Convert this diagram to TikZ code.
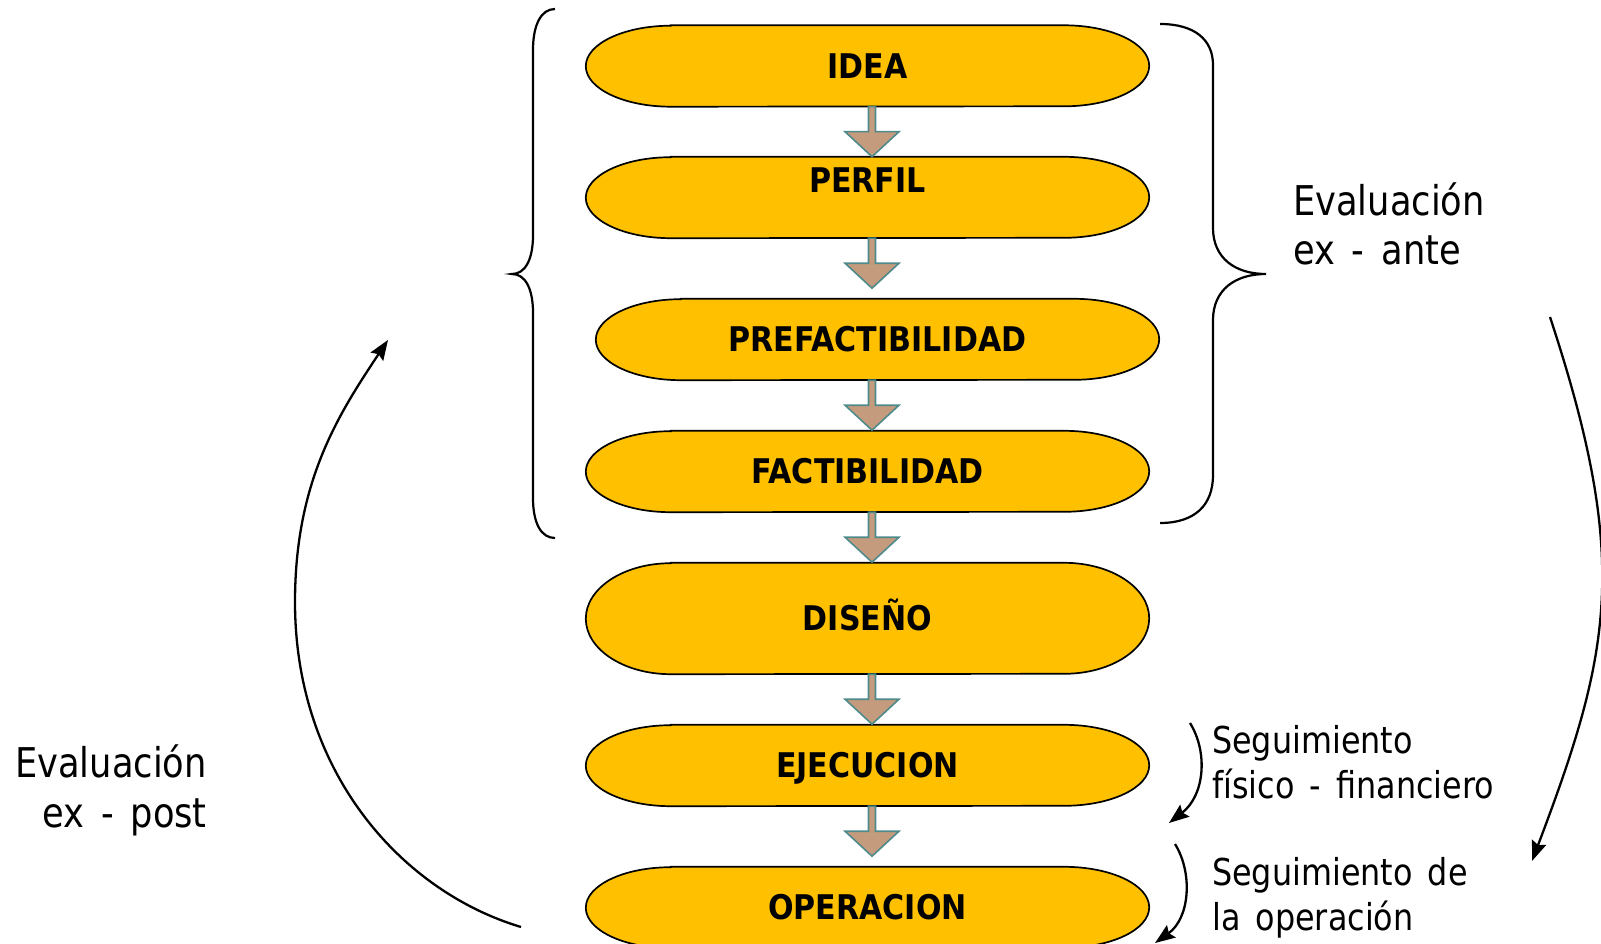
\documentclass[tikz,border=0pt]{standalone}
\usepackage{fontspec}
\setmainfont{DejaVu Sans}
\newfontfamily\regf[FakeStretch=0.86,WordSpace=1.5]{DejaVu Sans}
\newfontfamily\boldf[FakeStretch=0.885]{DejaVu Sans}
\usetikzlibrary{arrows.meta,backgrounds}
\definecolor{gold}{HTML}{FFC000}
\definecolor{arrowfill}{HTML}{C49B7D}
\definecolor{arrowline}{HTML}{4F8A8B}
\newcommand\bfont{\boldf\bfseries\fontsize{34pt}{40pt}\selectfont}
\newcommand\tshape[2]{%
  \path[tfill] ([xshift=85pt]#1.north west) -- ([xshift=-85pt]#1.north east)
    arc[start angle=90,end angle=-90,x radius=85pt,y radius=#2]
    -- ([xshift=85pt]#1.south west)
    arc[start angle=270,end angle=90,x radius=85pt,y radius=#2] -- cycle;}
\newcommand\barrow[2]{%
  \draw[bar] ([xshift=#2]#1.south) ++(-3.5,0) -- ++(0,25) -- ++(-23.5,0)
    -- ++(27,25) -- ++(27,-25) -- ++(-23.5,0) -- ++(0,-25) -- cycle;}
\begin{document}
\begin{tikzpicture}[x=1pt,y=-1pt,
  term/.style={rectangle, minimum width=563pt, minimum height=81pt, inner sep=0pt,
    font=\bfont, text height=24.8pt, text depth=0pt},
  tfill/.style={fill=gold, draw=black, line width=1.7pt},
  bar/.style={fill=arrowfill, draw=arrowline, line width=1.6pt, line join=miter},
  lbl/.style={font=\regf\fontsize{41pt}{50pt}\selectfont, inner sep=0pt},
  small/.style={font=\regf\fontsize{37pt}{45pt}\selectfont, inner sep=0pt, align=left},
  curve/.style={line width=2.3pt, -{Stealth[length=20pt,width=15pt,inset=3pt]}},
  brace/.style={line width=2.2pt}]
\useasboundingbox (0,0) rectangle (1601,944);
\clip (0,0) rectangle (1601,944);
% stages
\node[term] (idea) at (867.5,66) {IDEA};
\node[term, text height=25pt, text depth=35pt] (perfil) at (867.5,197.5) {PERFIL};
\node[term] (pref) at (877.5,339.5) {PREFACTIBILIDAD};
\node[term] (fact) at (867.5,471.5) {FACTIBILIDAD};
\node[term, minimum height=111pt] (dis) at (867.5,618.5) {DISEÑO};
\node[term] (ejec) at (867.5,765.5) {EJECUCION};
\node[term] (oper) at (867.5,907.5) {OPERACION};
\begin{pgfonlayer}{background}
  \tshape{idea}{40.5pt}
  \tshape{perfil}{40.5pt}
  \tshape{pref}{40.5pt}
  \tshape{fact}{40.5pt}
  \tshape{dis}{55.5pt}
  \tshape{ejec}{40.5pt}
  \tshape{oper}{40.5pt}
\end{pgfonlayer}
% block arrows
\barrow{idea}{4.5pt}
\barrow{perfil}{4.5pt}
\barrow{pref}{-5.5pt}
\barrow{fact}{4.5pt}
\barrow{dis}{4.5pt}
\barrow{ejec}{4.5pt}
% braces
\draw[brace] (555,9) .. controls (541,9) and (533,25) .. (533,50) -- (533,235)
  .. controls (533,260) and (525,274) .. (512,274)
  .. controls (525,274) and (533,288) .. (533,313) -- (533,498)
  .. controls (533,523) and (541,538) .. (555,538);
\draw[brace] (1160,24) .. controls (1195,24) and (1213,40) .. (1213,65) -- (1213,228)
  .. controls (1213,258) and (1235,274) .. (1266,274)
  .. controls (1235,274) and (1213,290) .. (1213,320) -- (1213,475)
  .. controls (1213,505) and (1195,523) .. (1160,523);
% labels
\node[lbl, anchor=base west, align=left] (exante) at (1293,265) {Evaluación\\ex - ante};
\node[lbl, anchor=base east, align=right] (expost) at (207,827) {Evaluación\\ex - post};
\node[small, anchor=base west] (seg1) at (1212,798) {Seguimiento\\físico - financiero};
\node[small, anchor=base west] (seg2) at (1212,930) {Seguimiento de\\la operación};
% curved arrows
\coordinate (pA) at (521,927);
\coordinate (pB) at (388,340);
\draw[curve] (pA) .. controls (401,891) and (295,772) .. (295,602)
  .. controls (295,482) and (338,415) .. (pB);
\coordinate (aA) at (1550,317);
\coordinate (aB) at (1532,861);
\draw[curve] (aA) .. controls (1630,560) and (1612,650) .. (aB);
\coordinate (s1A) at (1190,723);
\coordinate (s1B) at (1169,823);
\draw[curve] (s1A) .. controls (1208,752) and (1205,795) .. (s1B);
\coordinate (s2A) at (1175,844);
\coordinate (s2B) at (1155,943);
\draw[curve] (s2A) .. controls (1193,873) and (1190,918) .. (s2B);
\end{tikzpicture}
\end{document}
